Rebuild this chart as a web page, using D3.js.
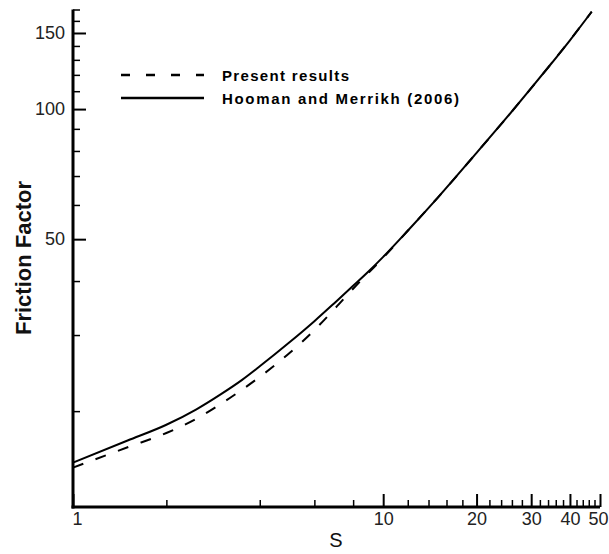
<!DOCTYPE html>
<html>
<head>
<meta charset="utf-8">
<script src="https://cdn.jsdelivr.net/npm/d3@7"></script>
<style>
  html, body { margin: 0; padding: 0; background: #fff; }
  svg { display: block; }
</style>
</head>
<body>
<svg id="chart" width="609" height="554"></svg>
<script>
// Shape parameter S and friction factor for the two curves
const sPresent = [1, 1.5, 2, 2.5, 3, 3.5, 4, 5, 6, 7, 8, 9, 10, 12, 15, 20, 25, 30, 35, 40, 47];
const fPresent = [14.8, 16.5, 17.8, 19.2, 20.8, 22.4, 24.0, 27.3, 30.8, 34.6, 38.4, 41.9, 45.3, 52.3, 62.4, 79.2, 95.5, 111.8, 128, 144.3, 168];

const sHooman = [1, 1.5, 2, 2.5, 3, 3.5, 4, 5, 6, 7, 8, 9, 10, 12, 15, 20, 25, 30, 35, 40, 47];
const fHooman = [15.2, 17.1, 18.6, 20.2, 21.9, 23.6, 25.4, 28.9, 32.3, 35.7, 39.0, 42.2, 45.5, 52.3, 62.4, 79.2, 95.5, 111.8, 128, 144.3, 168];

// Axis ticks
const xMajorTicks = [1, 10, 20, 30, 40, 50];
const xMinorTicks = [2, 4, 6, 8, 12, 14, 16, 18, 22, 24, 26, 28, 32, 34, 36, 38, 42, 44, 46, 48];
const yMajorTicks = [50, 100, 150];
const yMinorTicks = [20, 30, 40, 60, 70, 80, 90, 110, 120, 130, 140, 160, 170];

const legendLabels = ["Present results", "Hooman and Merrikh (2006)"];

const svg = d3.select("#chart");
const font = "'Liberation Sans', Arial, Helvetica, sans-serif";

const x = d3.scaleLog().domain([1, 50]).range([73, 600]);
const y = d3.scaleLog().domain([12, 170]).range([507, 9.5]);

// Minor ticks (no labels)
const xMinor = svg.append("g").attr("transform", `translate(0,${y.range()[0]})`)
  .call(d3.axisBottom(x).tickValues(xMinorTicks).tickSize(-7).tickFormat(""));
const yMinor = svg.append("g").attr("transform", `translate(${x.range()[0]},0)`)
  .call(d3.axisLeft(y).tickValues(yMinorTicks).tickSize(-7).tickFormat(""));
[xMinor, yMinor].forEach(g => {
  g.select(".domain").remove();
  g.selectAll(".tick line").attr("stroke", "#000").attr("stroke-width", 1.5);
});

// Major ticks with labels
const xAxis = svg.append("g").attr("transform", `translate(0,${y.range()[0]})`)
  .call(d3.axisBottom(x).tickValues(xMajorTicks).tickSize(-13).tickPadding(4)
    .tickFormat(d3.format("d")));
const yAxis = svg.append("g").attr("transform", `translate(${x.range()[0]},0)`)
  .call(d3.axisLeft(y).tickValues(yMajorTicks).tickSize(-13).tickPadding(8)
    .tickFormat(d3.format("d")));

[xAxis, yAxis].forEach(g => {
  g.select(".domain").remove();
  g.selectAll(".tick line").attr("stroke", "#000").attr("stroke-width", 2);
  g.selectAll(".tick text")
    .attr("font-family", font).attr("font-size", 18).attr("fill", "#222");
});
xAxis.selectAll(".tick text").attr("dy", "0.71em").attr("y", 5);
yAxis.selectAll(".tick text").attr("x", -8);
// keep the last label inside the frame
xAxis.selectAll(".tick text").filter(d => d === 50).attr("dx", -2);
xAxis.selectAll(".tick text").filter(d => d === 1).attr("dx", 4);

// Axis lines
svg.append("line")
  .attr("x1", x.range()[0]).attr("x2", x.range()[0])
  .attr("y1", y.range()[1]).attr("y2", y.range()[0] + 1.5)
  .attr("stroke", "#000").attr("stroke-width", 3);
svg.append("line")
  .attr("x1", x.range()[0] - 1.5).attr("x2", x.range()[1])
  .attr("y1", y.range()[0]).attr("y2", y.range()[0])
  .attr("stroke", "#000").attr("stroke-width", 3);

// Axis titles
svg.append("text")
  .attr("x", 336).attr("y", 547)
  .attr("text-anchor", "middle")
  .attr("font-family", font).attr("font-size", 20).attr("fill", "#111")
  .text("S");
svg.append("text")
  .attr("transform", `translate(31,258) rotate(-90)`)
  .attr("text-anchor", "middle")
  .attr("font-family", font).attr("font-size", 22).attr("font-weight", "bold").attr("fill", "#111")
  .text("Friction Factor");

// Curves
const line = d3.line().curve(d3.curveMonotoneX).x(d => x(d[0])).y(d => y(d[1]));

svg.append("path")
  .datum(d3.zip(sHooman, fHooman))
  .attr("d", line)
  .attr("fill", "none").attr("stroke", "#000").attr("stroke-width", 2);

svg.append("path")
  .datum(d3.zip(sPresent, fPresent))
  .attr("d", line)
  .attr("fill", "none").attr("stroke", "#000").attr("stroke-width", 2)
  .attr("stroke-dasharray", "11,13");

// Legend
const legend = svg.append("g");
const legendRows = [
  { label: legendLabels[0], dash: "9,16", y: 75, width: 127 },
  { label: legendLabels[1], dash: null, y: 98, width: 237 }
];
legendRows.forEach(r => {
  legend.append("line")
    .attr("x1", 121).attr("x2", 204).attr("y1", r.y).attr("y2", r.y)
    .attr("stroke", "#000").attr("stroke-width", 2.5)
    .attr("stroke-dasharray", r.dash);
  legend.append("text")
    .attr("x", 222).attr("y", r.y + 5.5)
    .attr("font-family", font).attr("font-size", 15).attr("font-weight", "bold")
    .attr("textLength", r.width).attr("lengthAdjust", "spacing")
    .attr("fill", "#000")
    .text(r.label);
});
</script>
</body>
</html>
